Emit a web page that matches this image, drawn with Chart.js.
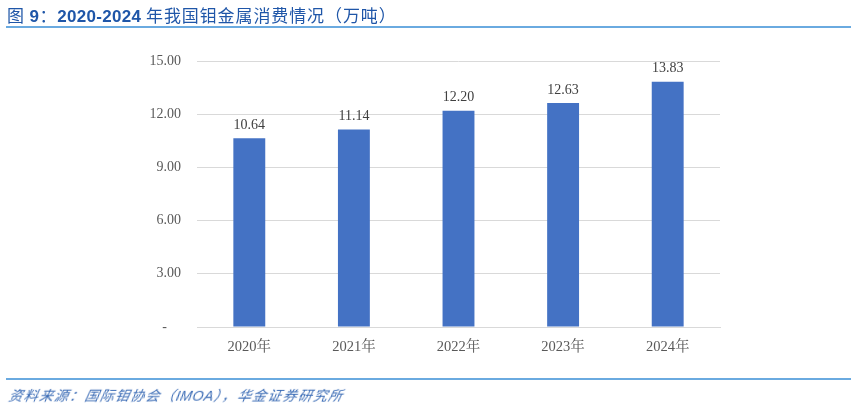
<!DOCTYPE html>
<html>
<head>
<meta charset="utf-8">
<script src="https://cdn.jsdelivr.net/npm/chart.js@4.4.1/dist/chart.umd.min.js"></script>
<style>
  html,body{margin:0;padding:0;background:#fff;}
  #wrap{position:relative;width:856px;height:408px;overflow:hidden;}
  #title{position:absolute;left:7px;top:2px;font-family:"Noto Sans CJK SC","Liberation Sans",sans-serif;font-size:17px;color:#1f56a8;white-space:nowrap;letter-spacing:0.9px;}
  #title b{font-family:"Liberation Sans",Arial,sans-serif;font-weight:bold;letter-spacing:0.3px;}
  #tline{position:absolute;left:6px;top:26px;width:845px;height:2px;background:#6aaae0;}
  #fline{position:absolute;left:6px;top:378px;width:845px;height:2px;background:#6aaae0;}
  #foot{position:absolute;left:7px;top:385px;font-family:"Noto Sans CJK SC",sans-serif;font-size:14px;font-style:italic;color:#3a6bb5;white-space:nowrap;letter-spacing:1.2px;transform:skewX(-12deg);transform-origin:left bottom;}
  #foot span{font-family:"Liberation Sans",Arial,sans-serif;letter-spacing:0.5px;}
  #cv{position:absolute;left:0;top:0;}
</style>
</head>
<body>
<div id="wrap">
  <canvas id="cv" width="856" height="408"></canvas>
  <div id="title">图 <b>9</b>：<b>2020-2024</b> 年我国钼金属消费情况（万吨）</div>
  <div id="tline"></div>
  <div id="fline"></div>
  <div id="foot">资料来源：国际钼协会（<span>IMOA</span>），华金证券研究所</div>
</div>
<script>
const categories = ['2020年', '2021年', '2022年', '2023年', '2024年'];
const consumption = [10.64, 11.14, 12.20, 12.63, 13.83];
const yTicks = [0, 3, 6, 9, 12, 15];

const valueLabels = {
  id: 'valueLabels',
  afterDatasetsDraw(chart) {
    const ctx = chart.ctx;
    const meta = chart.getDatasetMeta(0);
    ctx.save();
    ctx.font = '14px "Liberation Serif", "Times New Roman", serif';
    ctx.fillStyle = '#404040';
    ctx.textAlign = 'center';
    ctx.textBaseline = 'bottom';
    meta.data.forEach((bar, i) => {
      ctx.fillText(consumption[i].toFixed(2), bar.x, bar.y - 6);
    });
    ctx.restore();
  }
};

new Chart(document.getElementById('cv'), {
  type: 'bar',
  data: {
    labels: categories,
    datasets: [{
      data: consumption,
      backgroundColor: '#4472c4',
      borderWidth: 0,
      categoryPercentage: 1,
      barPercentage: 0.305
    }]
  },
  options: {
    responsive: false,
    animation: false,
    devicePixelRatio: 1,
    layout: { padding: { top: 61, right: 136, bottom: 0, left: 0 } },
    plugins: { legend: { display: false }, tooltip: { enabled: false } },
    scales: {
      x: {
        grid: { display: false, drawTicks: false },
        border: { display: true, color: '#d9d9d9', width: 1 },
        ticks: {
          padding: 11,
          color: '#595959',
          font: { family: '"Liberation Serif", "Noto Serif CJK SC", serif', size: 14.5 }
        },
        afterFit(s) { s.height = 81; }
      },
      y: {
        min: 0, max: 15,
        afterBuildTicks(s) { s.ticks = yTicks.map(v => ({ value: v })); },
        grid: { color: '#d9d9d9', drawTicks: false, lineWidth: 1 },
        border: { display: false },
        ticks: {
          padding: 16,
          color: '#595959',
          font: { family: '"Liberation Serif", "Times New Roman", serif', size: 14 },
          callback: v => v === 0 ? '-    ' : v.toFixed(2)
        },
        afterFit(s) { s.width = 197; }
      }
    }
  },
  plugins: [valueLabels]
});
</script>
</body>
</html>
